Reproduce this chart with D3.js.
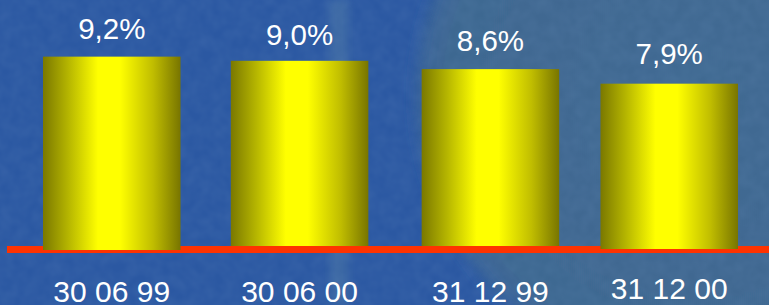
<!DOCTYPE html>
<html>
<head>
<meta charset="utf-8">
<script src="https://cdn.jsdelivr.net/npm/d3@7"></script>
<style>
  html, body { margin: 0; padding: 0; background: #2c5aa3; }
  svg { display: block; }
</style>
</head>
<body>
<svg id="chart" width="769" height="305"></svg>
<script>
// ---- data ----
const categories = ["30 06 99", "30 06 00", "31 12 99", "31 12 00"];
const values = [9.2, 9.0, 8.6, 7.9];
const valueLabels = ["9,2%", "9,0%", "8,6%", "7,9%"];

// ---- layout tweaks (not data) ----
const xNudge = [0, 2, 7, 0];
const bottomNudge = [2, -2, -2, 1];
const catDy = [0, 0, 0, -3];
const labelGap = [18, 16, 18, 20];

const W = 769, H = 305;
const baseY = 248;
const svg = d3.select("#chart");
const defs = svg.append("defs");

// background
svg.append("rect").attr("width", W).attr("height", H).attr("fill", "#2b58a2");

const globe = defs.append("radialGradient").attr("id", "globe")
  .attr("cx", 0.5).attr("cy", 0.5).attr("r", 0.5);
globe.append("stop").attr("offset", 0).attr("stop-color", "#416a92");
globe.append("stop").attr("offset", 0.9).attr("stop-color", "#3e6791");
globe.append("stop").attr("offset", 1).attr("stop-color", "#37629a");

const soft = defs.append("filter").attr("id", "soft").attr("x", "-10%").attr("y", "-10%").attr("width", "120%").attr("height", "120%");
soft.append("feGaussianBlur").attr("stdDeviation", 6);

const blur = defs.append("filter").attr("id", "blur").attr("x", "-50%").attr("width", "200%");
blur.append("feGaussianBlur").attr("stdDeviation", 5);

const noise = defs.append("filter").attr("id", "noise").attr("x", 0).attr("y", 0).attr("width", "100%").attr("height", "100%");
noise.append("feTurbulence").attr("type", "fractalNoise").attr("baseFrequency", 0.08).attr("numOctaves", 2).attr("seed", 3).attr("result", "t");
noise.append("feColorMatrix").attr("in", "t").attr("type", "matrix")
  .attr("values", "0 0 0 0 0.2  0 0 0 0 0.35  0 0 0 0 0.6  0 0 0 0.5 -0.1");

svg.append("circle").attr("cx", 700).attr("cy", 95).attr("r", 285)
  .attr("fill", "url(#globe)").attr("filter", "url(#soft)");
svg.append("rect").attr("x", 330).attr("y", 0).attr("width", 18).attr("height", H)
  .attr("fill", "#5f8aa8").attr("opacity", 0.35).attr("filter", "url(#blur)");
svg.append("rect").attr("width", W).attr("height", H).attr("filter", "url(#noise)").attr("opacity", 0.35);

// bar gradient
const bar = defs.append("linearGradient").attr("id", "bar").attr("x1", 0).attr("x2", 1).attr("y1", 0).attr("y2", 0);
[[0, "#7a7800"], [0.18, "#b4b400"], [0.4, "#ffff00"], [0.56, "#ffff00"], [0.8, "#c0bd00"], [1, "#787500"]]
  .forEach(([o, c]) => bar.append("stop").attr("offset", o).attr("stop-color", c));

// scales
const x2 = d3.scaleBand().domain(categories).range([43, 738]).paddingInner(0.26).paddingOuter(0);
const y = d3.scaleLinear().domain([0, 10]).range([baseY, baseY - 208]);

// red baseline
svg.append("rect").attr("x", 7).attr("y", 246).attr("width", W - 7).attr("height", 7).attr("fill", "#ff3300");

const g = svg.append("g");
categories.forEach((c, i) => {
  const x0 = x2(c) + xNudge[i];
  const bw = x2.bandwidth();
  const top = y(values[i]);
  g.append("rect")
    .attr("x", x0).attr("y", top)
    .attr("width", bw).attr("height", y(0) - top + bottomNudge[i])
    .attr("fill", "url(#bar)");
  g.append("text")
    .attr("x", x0 + bw / 2).attr("y", top - labelGap[i])
    .attr("text-anchor", "middle")
    .attr("font-family", "'Liberation Sans', Arial, Helvetica, sans-serif")
    .attr("font-size", 29.5).attr("fill", "#ffffff")
    .text(valueLabels[i]);
  g.append("text")
    .attr("x", x0 + bw / 2).attr("y", 302 + catDy[i])
    .attr("text-anchor", "middle")
    .attr("font-family", "'Liberation Sans', Arial, Helvetica, sans-serif")
    .attr("font-size", 30).attr("fill", "#ffffff")
    .text(c);
});
</script>
</body>
</html>
